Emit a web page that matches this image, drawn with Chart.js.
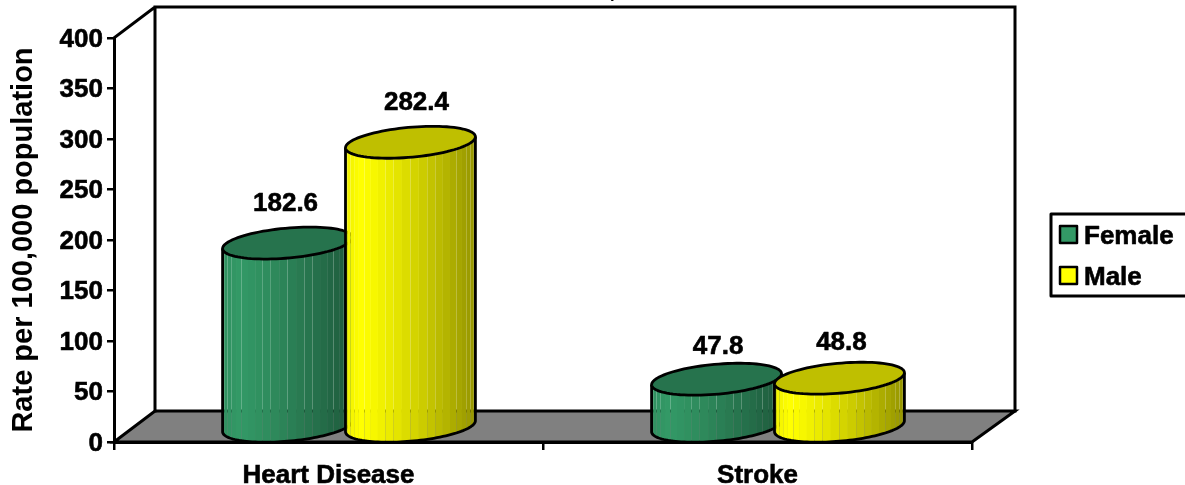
<!DOCTYPE html>
<html>
<head>
<meta charset="utf-8">
<style>html,body{margin:0;padding:0;background:#fff;overflow:hidden}canvas{display:block}</style>
<script src="https://cdn.jsdelivr.net/npm/chart.js@4"></script>
</head>
<body>
<canvas id="c" width="1185" height="485"></canvas>
<script>
const categories = ["Heart Disease", "Stroke"];
const female = [182.6, 47.8];
const male = [282.4, 48.8];
const seriesNames = ["Female", "Male"];
const yTicks = [0, 50, 100, 150, 200, 250, 300, 350, 400];
const yTitle = "Rate per 100,000 population";

const FONT = '"Liberation Sans", Arial, sans-serif';
const FS = 26;
const DEPTH_X = 41, DEPTH_Y = 31, MID_Y = 14.5;
const colours = [[0x33, 0x99, 0x66], [0xFF, 0xFF, 0x00]];
const labelNudge = [[[-2, 41], [1.5, 34]], [[6, 41], [2, 37]]];

function shade(c, k) {
  return 'rgb(' + c.map(v => Math.round(v * k)).join(',') + ')';
}
function factor(f) {
  if (f < 0.12) return 0.94 + 0.06 * f / 0.12;
  return 1 - 0.42 * Math.pow((f - 0.12) / 0.88, 1.2);
}
function ell(cx, cy, rx, t) {
  return [cx + rx * Math.cos(t), cy - 5.5 * Math.cos(t) + 15 * Math.sin(t)];
}
function cylinder(ctx, el, c) {
  const rx = el.width / 2, cx = el.x + DEPTH_X / 2;
  const topY = el.y - MID_Y, baseY = el.base - MID_Y;
  const N = 24;
  for (let i = 0; i < N; i++) {
    const a = Math.PI - Math.PI * i / N, b = Math.PI - Math.PI * (i + 1) / N;
    const p = ell(cx, topY, rx, a), q = ell(cx, topY, rx, b);
    const r = ell(cx, baseY, rx, b), s = ell(cx, baseY, rx, a);
    ctx.beginPath();
    ctx.moveTo(p[0], p[1]); ctx.lineTo(q[0], q[1]); ctx.lineTo(r[0], r[1]); ctx.lineTo(s[0], s[1]);
    ctx.closePath();
    ctx.fillStyle = shade(c, factor(((p[0] + q[0]) / 2 - (cx - rx)) / (2 * rx)));
    ctx.fill();
  }
  ctx.strokeStyle = '#000'; ctx.lineWidth = 2.8; ctx.lineJoin = 'round';
  ctx.beginPath();
  let p = ell(cx, topY, rx, Math.PI);
  ctx.moveTo(p[0], p[1]);
  for (let i = 0; i <= 60; i++) {
    p = ell(cx, baseY, rx, Math.PI - Math.PI * i / 60);
    ctx.lineTo(p[0], p[1]);
  }
  p = ell(cx, topY, rx, 0);
  ctx.lineTo(p[0], p[1]);
  ctx.stroke();
  ctx.beginPath();
  for (let i = 0; i <= 90; i++) {
    p = ell(cx, topY, rx, 2 * Math.PI * i / 90);
    if (i) ctx.lineTo(p[0], p[1]); else ctx.moveTo(p[0], p[1]);
  }
  ctx.closePath();
  ctx.fillStyle = shade(c, 0.75);
  ctx.fill();
  ctx.stroke();
}
function boldText(ctx, s, x, y) {
  ctx.lineWidth = 0.6;
  ctx.strokeStyle = '#000';
  ctx.strokeText(s, x, y);
  ctx.fillText(s, x, y);
}

const scene = {
  id: 'scene',
  beforeDatasetsDraw(chart) {
    const ctx = chart.ctx, a = chart.chartArea;
    const dx = DEPTH_X, dy = DEPTH_Y;
    ctx.save();
    ctx.lineCap = 'square'; ctx.lineJoin = 'miter';
    ctx.beginPath();
    ctx.moveTo(a.left, a.bottom);
    ctx.lineTo(a.left + dx, a.bottom - dy);
    ctx.lineTo(a.right + dx + 2, a.bottom - dy);
    ctx.lineTo(a.right, a.bottom);
    ctx.closePath();
    ctx.fillStyle = '#808080';
    ctx.fill();
    ctx.strokeStyle = '#000'; ctx.lineWidth = 3;
    ctx.stroke();
    ctx.beginPath();
    ctx.moveTo(a.left, a.top);
    ctx.lineTo(a.left + dx, a.top - dy);
    ctx.lineTo(a.right + dx + 2, a.top - dy);
    ctx.lineTo(a.right + dx + 2, a.bottom - dy);
    ctx.moveTo(a.left + dx, a.top - dy);
    ctx.lineTo(a.left + dx, a.bottom - dy);
    ctx.stroke();
    ctx.restore();
  },
  afterDatasetsDraw(chart) {
    const ctx = chart.ctx;
    ctx.save();
    chart.data.datasets.forEach((ds, i) => {
      chart.getDatasetMeta(i).data.forEach(el => cylinder(ctx, el, colours[i]));
    });
    ctx.fillStyle = '#000';
    ctx.font = 'bold ' + FS + 'px ' + FONT;
    ctx.textAlign = 'center'; ctx.textBaseline = 'middle';
    chart.data.datasets.forEach((ds, i) => {
      chart.getDatasetMeta(i).data.forEach((el, j) => {
        const n = labelNudge[i][j];
        boldText(ctx, ds.data[j].toFixed(1), el.x + DEPTH_X / 2 + n[0], el.y - MID_Y - n[1] + 1.5);
      });
    });
    // clipped remnant of the title at the top edge
    ctx.textAlign = 'left'; ctx.textBaseline = 'alphabetic';
    ctx.fillText(',', 609, -3);
    // legend
    ctx.fillStyle = '#fff';
    ctx.strokeStyle = '#000'; ctx.lineWidth = 3;
    ctx.fillRect(1051, 214, 140, 82);
    ctx.strokeRect(1051, 214, 140, 82);
    seriesNames.forEach((name, i) => {
      const y = 235 + i * 41;
      ctx.fillStyle = shade(colours[i], 1);
      ctx.fillRect(1060, y - 9, 17, 17);
      ctx.strokeStyle = '#000';
      ctx.lineWidth = 2.5;
      ctx.strokeRect(1060, y - 9, 17, 17);
      ctx.fillStyle = '#000';
      ctx.textBaseline = 'middle';
      boldText(ctx, name, 1084, y + 2);
    });
    ctx.restore();
  }
};

new Chart(document.getElementById('c'), {
  type: 'bar',
  data: {
    labels: categories,
    datasets: [
      { label: seriesNames[0], data: female, backgroundColor: 'rgba(0,0,0,0)', borderWidth: 0 },
      { label: seriesNames[1], data: male, backgroundColor: 'rgba(0,0,0,0)', borderWidth: 0 }
    ]
  },
  options: {
    responsive: false,
    animation: false,
    devicePixelRatio: 1,
    categoryPercentage: 0.573,
    barPercentage: 1.057,
    layout: { padding: { top: 38, right: 213, left: 0, bottom: 0 } },
    plugins: { legend: { display: false }, tooltip: { enabled: false }, title: { display: false } },
    scales: {
      x: {
        afterFit(s) { s.height = 43; },
        grid: { drawOnChartArea: false, color: '#000', lineWidth: 2.5, tickLength: 8 },
        border: { color: '#000', width: 3 },
        ticks: { color: '#000', padding: 10, maxRotation: 0, textStrokeColor: '#000', textStrokeWidth: 0.6, font: { family: FONT, size: FS, weight: 'bold' } }
      },
      y: {
        min: 0, max: 400,
        afterFit(s) { s.width = 114; },
        afterBuildTicks(s) { s.ticks = yTicks.map(v => ({ value: v })); },
        grid: { drawOnChartArea: false, color: '#000', lineWidth: 2.5, tickLength: 7 },
        border: { color: '#000', width: 3 },
        ticks: { color: '#000', padding: 4, labelOffset: 1.5, textStrokeColor: '#000', textStrokeWidth: 0.6, font: { family: FONT, size: FS, weight: 'bold' } },
        title: { display: true, text: yTitle, color: '#000', padding: { top: 7, bottom: 0 }, font: { family: FONT, size: 29, weight: 'bold' } }
      }
    }
  },
  plugins: [scene]
});
</script>
</body>
</html>
